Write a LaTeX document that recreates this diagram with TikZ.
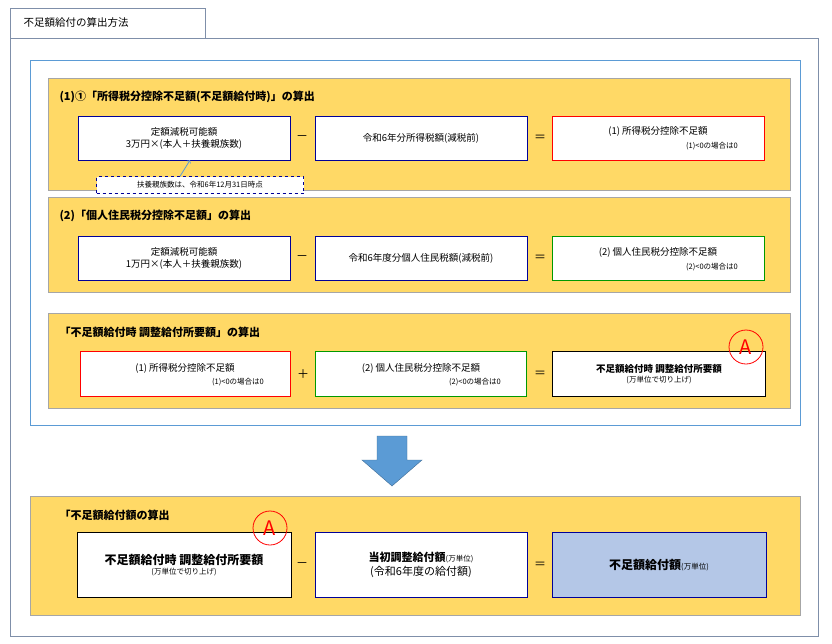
\documentclass[tikz,border=0pt]{standalone}
\usepackage{fontspec}
\setmainfont{Noto Sans CJK JP}
\usetikzlibrary{positioning}
\definecolor{ayel}{HTML}{FFD966}
\definecolor{ablue}{HTML}{5B9BD5}
\definecolor{lblue}{HTML}{B4C7E7}
\definecolor{fgray}{HTML}{7F8FA9}
\begin{document}
\begin{tikzpicture}[x=1pt,y=-1pt,
  yel/.style={draw=gray!70, fill=ayel},
  box/.style={draw=blue!60!black, fill=white, align=center, font=\fontsize{9.5}{12}\selectfont},
  ttl/.style={anchor=west, font=\bfseries\fontsize{11}{13}\selectfont},
  op/.style={font=\fontsize{12}{14}\selectfont},
  sm/.style={font=\fontsize{7.5}{8}\selectfont},
  amark/.style={circle, draw=red, thick, minimum size=34pt, inner sep=0pt, text=red, font=\fontsize{20}{22}\selectfont}]
  \useasboundingbox (0,0) rectangle (832,643);
  % frames
  \draw[draw=fgray] (10,8) rectangle (205,38);
  \node[anchor=west, font=\fontsize{10.5}{12}\selectfont] (head) at (20,23) {不足額給付の算出方法};
  \draw[draw=fgray] (10,38) rectangle (818,636);
  \draw[draw=ablue] (30,60) rectangle (800,425);
  % (1)
  \draw[yel] (48,78) rectangle (790,190);
  \node[ttl] (t1) at (56,97) {(1)①「所得税分控除不足額(不足額給付時)」の算出};
  \node[box, minimum width=212pt, minimum height=44pt] (a1) at (184,138) {定額減税可能額\\3万円×(本人＋扶養親族数)};
  \node[op] (m1) at (302,138) {－};
  \node[box, minimum width=212pt, minimum height=44pt] (b1) at (421,138) {令和6年分所得税額(減税前)};
  \node[op] (e1) at (540,138) {＝};
  \node[box, draw=red, minimum width=212pt, minimum height=44pt] (c1) at (658,138) {};
  \node[font=\fontsize{9.5}{11}\selectfont] at (658,131) {(1) 所得税分控除不足額};
  \node[sm] at (712,146) {(1)<0の場合は0};
  \node[draw=blue!60!black, dashed, fill=white, sm, minimum width=207pt, minimum height=17pt] (n1) at (200,185) {扶養親族数は、令和6年12月31日時点};
  \draw[->, thick, draw=ablue] (n1.north -| 180,0) -- (a1.south -| 190,0);
  % (2)
  \draw[yel] (48,197) rectangle (790,292);
  \node[ttl] (t2) at (56,216) {(2)「個人住民税分控除不足額」の算出};
  \node[box, minimum width=212pt, minimum height=44pt] (a2) at (184,258) {定額減税可能額\\1万円×(本人＋扶養親族数)};
  \node[op] (m2) at (302,258) {－};
  \node[box, minimum width=212pt, minimum height=44pt] (b2) at (421,258) {令和6年度分個人住民税額(減税前)};
  \node[op] (e2) at (540,258) {＝};
  \node[box, draw=green!60!black, minimum width=212pt, minimum height=44pt] (c2) at (658,258) {};
  \node[font=\fontsize{9.5}{11}\selectfont] at (658,252) {(2) 個人住民税分控除不足額};
  \node[sm] at (712,267) {(2)<0の場合は0};
  % (3)
  \draw[yel] (48,313) rectangle (790,408);
  \node[ttl] (t3) at (56,332) {「不足額給付時 調整給付所要額」の算出};
  \node[box, draw=red, minimum width=210pt, minimum height=45pt] (a3) at (185,374) {};
  \node[font=\fontsize{9.5}{11}\selectfont] at (185,368) {(1) 所得税分控除不足額};
  \node[sm] at (238,382) {(1)<0の場合は0};
  \node[op] (p3) at (303,374) {＋};
  \node[box, draw=green!60!black, minimum width=211pt, minimum height=45pt] (b3) at (421,374) {};
  \node[font=\fontsize{9.5}{11}\selectfont] at (421,368) {(2) 個人住民税分控除不足額};
  \node[sm] at (475,382) {(2)<0の場合は0};
  \node[op] (e3) at (540,374) {＝};
  \node[box, draw=black, minimum width=213pt, minimum height=45pt] (c3) at (659,374) {\textbf{不足額給付時 調整給付所要額}\\[-2pt]{\fontsize{7.5}{8}\selectfont (万単位で切り上げ)}};
  \node[amark] (A1) at (746,347) {A};
  % arrow
  \draw[draw=ablue!70!black, fill=ablue] (377,436) -- (407,436) -- (407,460) -- (422,460)
    -- (392,486) -- (362,460) -- (377,460) -- cycle;
  % result
  \draw[yel] (30,496) rectangle (800,615);
  \node[ttl] (t4) at (56,515) {「不足額給付額の算出};
  \node[box, draw=black, minimum width=214pt, minimum height=65pt] (a4) at (184,565) {{\bfseries\fontsize{12}{14}\selectfont 不足額給付時 調整給付所要額}\\[-2pt]{\fontsize{7.5}{8}\selectfont (万単位で切り上げ)}};
  \node[amark] (A2) at (270,528) {A};
  \node[op] (m4) at (302,565) {－};
  \node[box, minimum width=212pt, minimum height=65pt, font=\fontsize{11}{14}\selectfont] (b4) at (421,565) {\textbf{当初調整給付額}{\fontsize{7.5}{8}\selectfont (万単位)}\\(令和6年度の給付額)};
  \node[op] (e4) at (540,565) {＝};
  \node[box, fill=lblue, minimum width=214pt, minimum height=65pt] (c4) at (659,565) {{\bfseries\fontsize{12}{14}\selectfont 不足額給付額}{\fontsize{7.5}{8}\selectfont (万単位)}};
\end{tikzpicture}
\end{document}
